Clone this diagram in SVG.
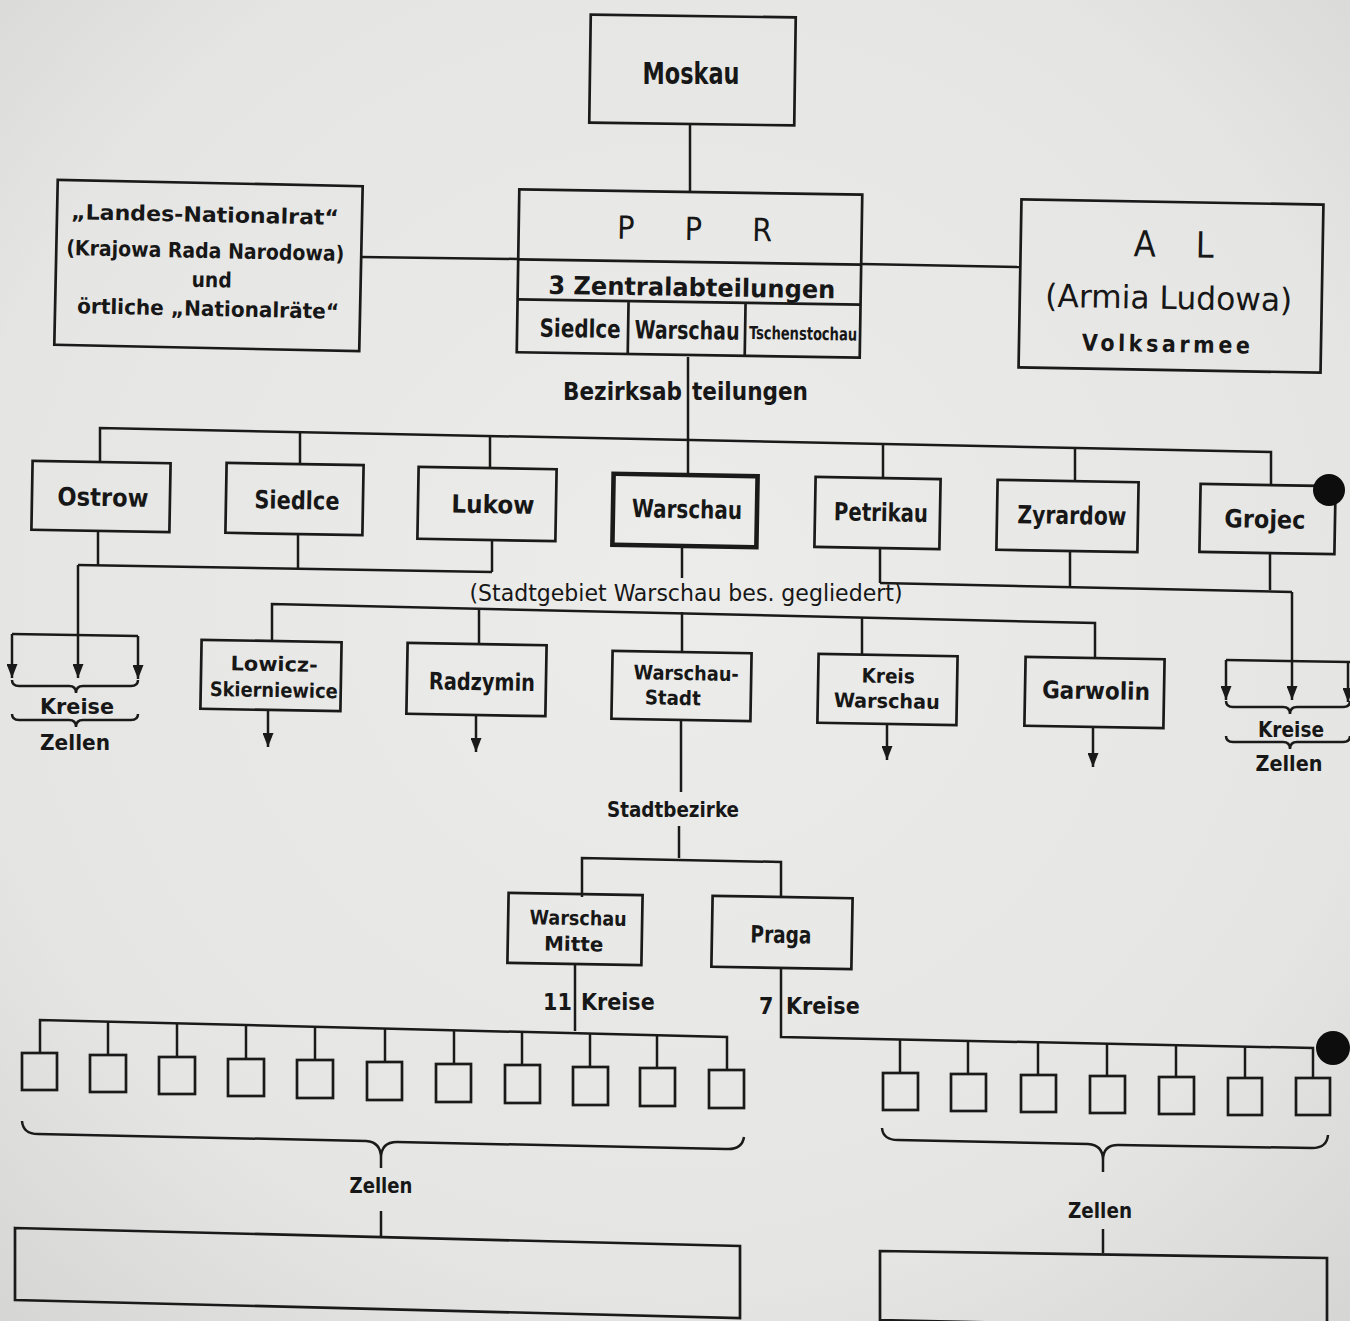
<svg xmlns="http://www.w3.org/2000/svg" width="1350" height="1321" viewBox="0 0 1350 1321">
  <defs>
    <radialGradient id="paper" cx="50%" cy="45%" r="75%">
      <stop offset="0" stop-color="#ececea"/>
      <stop offset="0.7" stop-color="#e5e5e3"/>
      <stop offset="1" stop-color="#d5d5d3"/>
    </radialGradient>
    <marker id="arrow" viewBox="0 0 14 11" refX="14" refY="5.5" markerWidth="14" markerHeight="11" markerUnits="userSpaceOnUse" orient="auto">
      <path d="M0,0 L14,5.5 L0,11 z" fill="#1a1a1a"/>
    </marker>
    <style>
      .box { fill: none; stroke: #1a1a1a; stroke-width: 2.7; }
      .thick { stroke-width: 4.6; }
      .ln { fill: none; stroke: #1a1a1a; stroke-width: 2.5; }
      .arr { marker-end: url(#arrow); }
      .t { font-family: "DejaVu Sans Condensed", "Liberation Sans Narrow", "Liberation Sans", sans-serif; font-weight: bold; fill: #171717; text-anchor: middle; }
      .r { font-weight: normal; }
      .s { text-anchor: start; }
    </style>
  </defs>

  <rect width="1350" height="1321" fill="url(#paper)"/>

  <!-- connectors -->
  <g id="connectors" class="ln">
    <path d="M690,125 V193"/>
    <path d="M361,257 L518,259"/>
    <path d="M861,264 L1020,267"/>
    <path d="M688,357 V474"/>
    <!-- district bus -->
    <path d="M100,462 V428 L1271,452 V484"/>
    <path d="M300,432 V463"/>
    <path d="M490,436 V467"/>
    <path d="M883,444 V477"/>
    <path d="M1075,448 V480"/>
    <!-- left group below -->
    <path d="M98,531 V565"/>
    <path d="M298,534 V568"/>
    <path d="M492,540 V572"/>
    <path d="M78,565 L492,572"/>
    <path class="arr" d="M78,565 V678"/>
    <path d="M12,634 L138,636"/>
    <path class="arr" d="M12,634 V678"/>
    <path class="arr" d="M138,636 V679"/>
    <path d="M12,680 Q12,686 19,686 H69 Q76,686 76,693 Q76,686 83,686 H131 Q138,686 138,680"/>
    <path d="M12,714 Q12,720 19,720 H69 Q76,720 76,727 Q76,720 83,720 H131 Q138,720 138,714"/>
    <!-- right group below -->
    <path d="M880,548 V583"/>
    <path d="M1070,551 V587"/>
    <path d="M1270,553 V590"/>
    <path d="M880,583 L1292,592"/>
    <path class="arr" d="M1292,592 V700"/>
    <path d="M1226,660 L1352,662"/>
    <path class="arr" d="M1226,660 V700"/>
    <path class="arr" d="M1348,662 V702"/>
    <path d="M1226,701 Q1226,707 1233,707 H1283 Q1290,707 1290,714 Q1290,707 1297,707 H1343 Q1350,707 1350,701"/>
    <path d="M1226,736 Q1226,742 1233,742 H1283 Q1290,742 1290,749 Q1290,742 1297,742 H1343 Q1350,742 1350,736"/>
    <!-- Warschau branch -->
    <path d="M682,546 V578"/>
    <path d="M682,612 V652"/>
    <path d="M272,641 V604 L1095,623 V657"/>
    <path d="M479,609 V643"/>
    <path d="M862,618 V654"/>
    <path class="arr" d="M268,710 V747"/>
    <path class="arr" d="M476,715 V752"/>
    <path class="arr" d="M887,724 V760"/>
    <path class="arr" d="M1093,727 V767"/>
    <!-- city districts -->
    <path d="M681,720 V792"/>
    <path d="M679,826 V858"/>
    <path d="M582,897 V858 L781,862 V898"/>
    <path d="M575,964 V1031"/>
    <path d="M781,968 V1037 L1313,1048 V1078"/>
    <!-- 11 Kreise bus -->
    <path d="M40,1053 V1020 L727,1037 V1070"/>
    <path d="M108,1022 V1055"/>
    <path d="M177,1023 V1057"/>
    <path d="M246,1025 V1059"/>
    <path d="M315,1027 V1060"/>
    <path d="M385,1028 V1062"/>
    <path d="M454,1030 V1064"/>
    <path d="M522,1032 V1065"/>
    <path d="M590,1034 V1067"/>
    <path d="M657,1035 V1068"/>
    <!-- 7 Kreise bus -->
    <path d="M900,1039 V1073"/>
    <path d="M968,1041 V1074"/>
    <path d="M1038,1042 V1075"/>
    <path d="M1107,1044 V1076"/>
    <path d="M1176,1045 V1077"/>
    <path d="M1245,1046 V1078"/>
    <!-- Zellen braces -->
    <path d="M22,1121 Q23,1134 38,1134 L366,1141 Q381,1142 381,1158 Q381,1142 397,1142 L726,1149 Q742,1150 744,1137"/>
    <path d="M381,1158 V1168"/>
    <path d="M381,1211 V1237"/>
    <path d="M882,1128 Q883,1140 898,1140 L1088,1144 Q1103,1145 1103,1160 Q1103,1145 1118,1145 L1312,1148 Q1327,1148 1328,1135"/>
    <path d="M1103,1160 V1172"/>
    <path d="M1103,1229 V1253"/>
  </g>

  <!-- top -->
  <g id="moskau">
    <rect class="box" x="590" y="16" width="205" height="108" transform="rotate(0.8 692 70)"/>
    <text class="t" x="691" y="84" font-size="30" textLength="97" lengthAdjust="spacingAndGlyphs">Moskau</text>
  </g>

  <g id="ppr" transform="rotate(0.9 690 274)">
    <rect class="box" x="518" y="192" width="343" height="163"/>
    <path class="box" d="M518,262 H861 M518,302 H861 M629,302 V355 M746,302 V355"/>
    <text class="t r" x="694" y="240" font-size="32" textLength="155" lengthAdjust="spacing">P P R</text>
    <text class="t" x="692" y="296" font-size="25" textLength="287" lengthAdjust="spacingAndGlyphs">3 Zentralabteilungen</text>
    <text class="t" x="581" y="339" font-size="25" textLength="81" lengthAdjust="spacingAndGlyphs">Siedlce</text>
    <text class="t" x="688" y="339" font-size="25" textLength="105" lengthAdjust="spacingAndGlyphs">Warschau</text>
    <text class="t" x="804" y="338" font-size="18" textLength="108" lengthAdjust="spacingAndGlyphs">Tschenstochau</text>
  </g>

  <g id="landesnationalrat" transform="rotate(1.2 208 265)">
    <rect class="box" x="56" y="183" width="305" height="165"/>
    <text class="t" x="204" y="222" font-size="21" textLength="268" lengthAdjust="spacingAndGlyphs">„Landes-Nationalrat“</text>
    <text class="t" x="205" y="258" font-size="21" textLength="278" lengthAdjust="spacingAndGlyphs">(Krajowa Rada Narodowa)</text>
    <text class="t" x="212" y="287" font-size="21" textLength="40" lengthAdjust="spacingAndGlyphs">und</text>
    <text class="t" x="209" y="316" font-size="21" textLength="262" lengthAdjust="spacingAndGlyphs">örtliche „Nationalräte“</text>
  </g>

  <g id="al" transform="rotate(1 1171 286)">
    <rect class="box" x="1020" y="202" width="302" height="168"/>
    <text class="t r" x="1173" y="257" font-size="36" textLength="80" lengthAdjust="spacing">A L</text>
    <text class="t r" x="1169" y="309" font-size="32" textLength="247" lengthAdjust="spacingAndGlyphs">(Armia Ludowa)</text>
    <text class="t" x="1167" y="352" font-size="23" textLength="168" lengthAdjust="spacing">Volksarmee</text>
  </g>

  <text class="t s" x="563" y="400" font-size="24">Bezirksab<tspan x="692">teilungen</tspan></text>

  <!-- district departments -->
  <g id="ostrow" transform="rotate(1 101 496)">
    <rect class="box" x="32" y="462" width="138" height="69"/>
    <text class="t" x="103" y="506" font-size="25" textLength="91" lengthAdjust="spacingAndGlyphs">Ostrow</text>
  </g>
  <g id="siedlce" transform="rotate(1 295 499)">
    <rect class="box" x="226" y="464" width="137" height="70"/>
    <text class="t" x="297" y="509" font-size="25" textLength="85" lengthAdjust="spacingAndGlyphs">Siedlce</text>
  </g>
  <g id="lukow" transform="rotate(1 487 504)">
    <rect class="box" x="418" y="468" width="138" height="72"/>
    <text class="t" x="493" y="513" font-size="25" textLength="83" lengthAdjust="spacingAndGlyphs">Lukow</text>
  </g>
  <g id="warschau" transform="rotate(1 685 510)">
    <rect class="box thick" x="613" y="475" width="144" height="71"/>
    <text class="t" x="687" y="518" font-size="25" textLength="110" lengthAdjust="spacingAndGlyphs">Warschau</text>
  </g>
  <g id="petrikau" transform="rotate(1 877 513)">
    <rect class="box" x="815" y="478" width="125" height="70"/>
    <text class="t" x="881" y="521" font-size="25" textLength="94" lengthAdjust="spacingAndGlyphs">Petrikau</text>
  </g>
  <g id="zyrardow" transform="rotate(1 1067 516)">
    <rect class="box" x="997" y="481" width="141" height="70"/>
    <text class="t" x="1072" y="524" font-size="25" textLength="109" lengthAdjust="spacingAndGlyphs">Zyrardow</text>
  </g>
  <g id="grojec" transform="rotate(1 1267 519)">
    <rect class="box" x="1200" y="485" width="135" height="68"/>
    <text class="t" x="1265" y="528" font-size="25" textLength="81" lengthAdjust="spacingAndGlyphs">Grojec</text>
  </g>

  <g id="kreise-links">
    <text class="t" x="77" y="714" font-size="22" textLength="74" lengthAdjust="spacingAndGlyphs">Kreise</text>
    <text class="t" x="75" y="750" font-size="22" textLength="70" lengthAdjust="spacingAndGlyphs">Zellen</text>
  </g>
  <g id="kreise-rechts">
    <text class="t" x="1291" y="737" font-size="22" textLength="66" lengthAdjust="spacingAndGlyphs">Kreise</text>
    <text class="t" x="1289" y="771" font-size="22" textLength="67" lengthAdjust="spacingAndGlyphs">Zellen</text>
  </g>

  <text class="t r" x="686" y="601" font-size="23" textLength="433" lengthAdjust="spacingAndGlyphs">(Stadtgebiet Warschau bes. gegliedert)</text>

  <!-- Warschau sub-districts -->
  <g id="lowicz" transform="rotate(1 271 675)">
    <rect class="box" x="201" y="641" width="140" height="69"/>
    <text class="t" x="274" y="671" font-size="20" textLength="87" lengthAdjust="spacingAndGlyphs">Lowicz-</text>
    <text class="t" x="274" y="697" font-size="20" textLength="128" lengthAdjust="spacingAndGlyphs">Skierniewice</text>
  </g>
  <g id="radzymin" transform="rotate(1 476 679)">
    <rect class="box" x="407" y="644" width="139" height="71"/>
    <text class="t" x="482" y="690" font-size="24" textLength="106" lengthAdjust="spacingAndGlyphs">Radzymin</text>
  </g>
  <g id="warschau-stadt" transform="rotate(1 681 686)">
    <rect class="box" x="612" y="652" width="139" height="68"/>
    <text class="t" x="686" y="680" font-size="20" textLength="105" lengthAdjust="spacingAndGlyphs">Warschau-</text>
    <text class="t" x="673" y="705" font-size="20" textLength="56" lengthAdjust="spacingAndGlyphs">Stadt</text>
  </g>
  <g id="kreis-warschau" transform="rotate(1 887 689)">
    <rect class="box" x="818" y="655" width="139" height="69"/>
    <text class="t" x="888" y="683" font-size="20" textLength="53" lengthAdjust="spacingAndGlyphs">Kreis</text>
    <text class="t" x="887" y="708" font-size="20" textLength="106" lengthAdjust="spacingAndGlyphs">Warschau</text>
  </g>
  <g id="garwolin" transform="rotate(1 1094 692)">
    <rect class="box" x="1025" y="658" width="139" height="69"/>
    <text class="t" x="1096" y="699" font-size="24" textLength="108" lengthAdjust="spacingAndGlyphs">Garwolin</text>
  </g>

  <text class="t" x="673" y="817" font-size="21" textLength="132" lengthAdjust="spacingAndGlyphs">Stadtbezirke</text>

  <g id="warschau-mitte" transform="rotate(1 575 929)">
    <rect class="box" x="508" y="894" width="134" height="70"/>
    <text class="t" x="578" y="925" font-size="20" textLength="97" lengthAdjust="spacingAndGlyphs">Warschau</text>
    <text class="t" x="574" y="951" font-size="20" textLength="59" lengthAdjust="spacingAndGlyphs">Mitte</text>
  </g>
  <g id="praga" transform="rotate(1 782 932)">
    <rect class="box" x="712" y="897" width="140" height="71"/>
    <text class="t" x="781" y="943" font-size="24" textLength="61" lengthAdjust="spacingAndGlyphs">Praga</text>
  </g>

  <text class="t s" x="543" y="1010" font-size="23">11<tspan x="581">Kreise</tspan></text>
  <text class="t s" x="759" y="1014" font-size="23">7<tspan x="786">Kreise</tspan></text>

  <!-- 11 Kreise of Warschau Mitte -->
  <g id="kreise-mitte" class="box">
    <rect x="22" y="1053" width="35" height="37"/>
    <rect x="90" y="1055" width="36" height="37"/>
    <rect x="159" y="1057" width="36" height="37"/>
    <rect x="228" y="1059" width="36" height="37"/>
    <rect x="297" y="1060" width="36" height="38"/>
    <rect x="367" y="1062" width="35" height="38"/>
    <rect x="436" y="1064" width="35" height="38"/>
    <rect x="505" y="1065" width="35" height="38"/>
    <rect x="573" y="1067" width="35" height="38"/>
    <rect x="640" y="1068" width="35" height="38"/>
    <rect x="709" y="1070" width="35" height="38"/>
  </g>

  <!-- 7 Kreise of Praga -->
  <g id="kreise-praga" class="box">
    <rect x="883" y="1073" width="35" height="37"/>
    <rect x="951" y="1074" width="35" height="37"/>
    <rect x="1021" y="1075" width="35" height="37"/>
    <rect x="1090" y="1076" width="35" height="37"/>
    <rect x="1159" y="1077" width="35" height="37"/>
    <rect x="1228" y="1078" width="34" height="37"/>
    <rect x="1296" y="1078" width="34" height="37"/>
  </g>

  <g id="zellen-mitte">
    <text class="t" x="381" y="1193" font-size="21" textLength="63" lengthAdjust="spacingAndGlyphs">Zellen</text>
    <polygon class="box" points="15,1228 740,1246 740,1318 15,1300"/>
  </g>
  <g id="zellen-praga">
    <text class="t" x="1100" y="1218" font-size="21" textLength="64" lengthAdjust="spacingAndGlyphs">Zellen</text>
    <polygon class="box" points="880,1251 1327,1258 1327,1330 880,1320"/>
  </g>

  <!-- ink blots on the sheet -->
  <circle cx="1329" cy="490" r="16" fill="#0d0d0d"/>
  <circle cx="1333" cy="1048" r="17" fill="#0d0d0d"/>
</svg>
